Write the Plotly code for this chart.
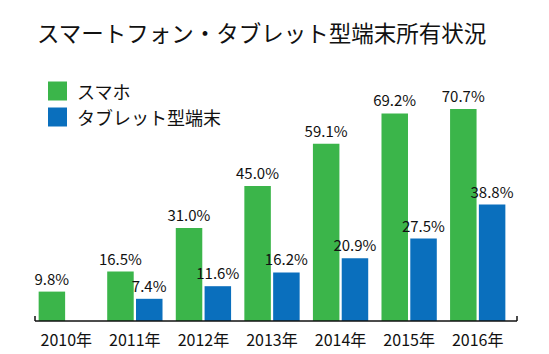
import plotly.graph_objects as go

years = ["2010年", "2011年", "2012年", "2013年", "2014年", "2015年", "2016年"]
smartphone = [9.8, 16.5, 31.0, 45.0, 59.1, 69.2, 70.7]
tablet = [None, 7.4, 11.6, 16.2, 20.9, 27.5, 38.8]
series_names = ["スマホ", "タブレット型端末"]
title_text = "スマートフォン・タブレット型端末所有状況"

GREEN = "#3bb54a"
BLUE = "#0a6fbd"
FONT = "Noto Sans CJK JP"

def labels(vals):
    return ["" if v is None else f"{v:.1f}%" for v in vals]

fig = go.Figure()
fig.add_trace(go.Bar(x=years, y=smartphone, name=series_names[0], marker_color=GREEN,
                     marker_line_width=0, text=labels(smartphone), textposition="outside",
                     constraintext="none",
                     textfont=dict(family=FONT, size=15, color="#111"), cliponaxis=False))
fig.add_trace(go.Bar(x=years, y=tablet, name=series_names[1], marker_color=BLUE,
                     marker_line_width=0, text=labels(tablet), textposition="outside",
                     constraintext="none",
                     textfont=dict(family=FONT, size=15, color="#111"), cliponaxis=False))

fig.update_layout(
    width=549, height=354,
    margin=dict(l=32, r=37, t=81, b=33),
    paper_bgcolor="white", plot_bgcolor="white",
    barmode="group", bargap=0.16, bargroupgap=0.08,
    showlegend=False,
    font=dict(family=FONT, color="#111"),
)
fig.update_xaxes(showline=False, ticks="", ticklabelstandoff=8, automargin=False,
                 tickfont=dict(family=FONT, size=16, color="#111"), showgrid=False)
fig.update_yaxes(visible=False, range=[0, 80], showgrid=False, automargin=False)

# title
fig.add_annotation(text=title_text, xref="paper", yref="paper", x=(35-32)/480, y=1.0,
                   xanchor="left", yanchor="middle", yshift=49, showarrow=False,
                   font=dict(family=FONT, size=22.5, color="#111"))

# custom legend
leg_y = [91, 117]
for i, (name, col) in enumerate(zip(series_names, [GREEN, BLUE])):
    fig.add_shape(type="rect", xref="paper", yref="paper",
                  x0=(48-32)/480, x1=(67-32)/480,
                  y0=(354-33-leg_y[i]-9.5)/240, y1=(354-33-leg_y[i]+9.5)/240,
                  fillcolor=col, line_width=0)
    fig.add_annotation(text=name, xref="paper", yref="paper",
                       x=(75-32)/480, y=(354-33-leg_y[i])/240,
                       xanchor="left", yanchor="middle", showarrow=False,
                       font=dict(family=FONT, size=18, color="#111"))

# axis baseline with end ticks
for xp in [(35-32)/480, (517-32)/480]:
    fig.add_shape(type="line", xref="paper", yref="paper", x0=xp, x1=xp,
                  y0=0, y1=5/240, line=dict(color="#111", width=1.5))
fig.add_shape(type="line", xref="paper", yref="paper", x0=(35-32)/480, x1=(517-32)/480,
              y0=0, y1=0, line=dict(color="#111", width=1.5))

fig.write_html("out.html")
